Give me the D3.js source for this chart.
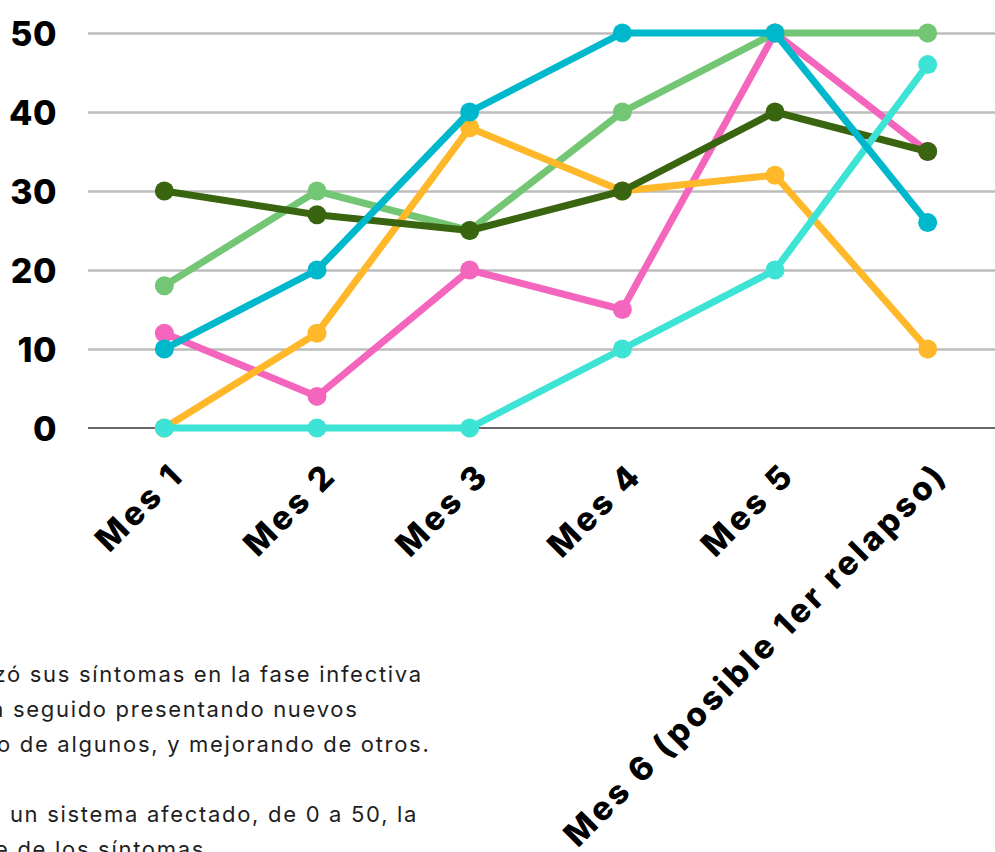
<!DOCTYPE html>
<html>
<head>
<meta charset="utf-8">
<script src="https://cdn.jsdelivr.net/npm/d3@7"></script>
<style>
  html, body { margin: 0; padding: 0; background: #ffffff; overflow: hidden; }
  svg { display: block; }
</style>
</head>
<body>
<svg id="chart" width="995" height="852"></svg>
<script>
// Categories along the x axis
const months = ["Mes 1", "Mes 2", "Mes 3", "Mes 4", "Mes 5", "Mes 6 (posible 1er relapso)"];

// Y axis ticks
const yTicks = [0, 10, 20, 30, 40, 50];

// Symptom severity per affected system (0 to 50), drawn bottom to top
const pinkValues       = [12, 4, 20, 15, 50, 35];
const lightGreenValues = [18, 30, 25, 40, 50, 50];
const orangeValues     = [0, 12, 38, 30, 32, 10];
const darkGreenValues  = [30, 27, 25, 30, 40, 35];
const turquoiseValues  = [0, 0, 0, 10, 20, 46];
const cyanValues       = [10, 20, 40, 50, 50, 26];

const seriesColors = ["#f466be", "#73c774", "#ffb829", "#3a6510", "#3de3d4", "#00b8cc"];

const series = [pinkValues, lightGreenValues, orangeValues, darkGreenValues, turquoiseValues, cyanValues]
  .map((values, i) => ({ values, color: seriesColors[i] }));

// Explanatory notes below the chart; the block runs off the left edge of the page.
// "head" is the part that falls past the edge, "start" is where the rest begins.
const noteLines = [
  { head: "z",  rest: "ó sus síntomas en la fase infectiva", start: 7,  row: 0 },
  { head: "ha", rest: " seguido presentando nuevos",          start: 5,  row: 1 },
  { head: "",   rest: "o de algunos, y mejorando de otros.",  start: -3, row: 2 },
  { head: "",   rest: " un sistema afectado, de 0 a 50, la",  start: 2,  row: 4 },
  { head: "",   rest: "e de los síntomas.",                   start: -5, row: 5 }
];

const svg = d3.select("#chart");

const x = d3.scalePoint().domain(months).range([88, 1004]).padding(0.5);
const y = d3.scaleLinear().domain([0, 50]).range([428, 33]);

// Horizontal gridlines
const gridAxis = d3.axisLeft(y).tickValues(yTicks.filter(d => d > 0)).tickSize(-(1004 - 88)).tickFormat("");
const grid = svg.append("g").attr("transform", "translate(88,0)").call(gridAxis);
grid.select(".domain").remove();
grid.selectAll(".tick line").attr("stroke", "#bdbdbd").attr("stroke-width", 2.6);

// Baseline at zero
svg.append("line")
  .attr("x1", 88).attr("x2", 1004)
  .attr("y1", y(0)).attr("y2", y(0))
  .attr("stroke", "#666666").attr("stroke-width", 2.2);

// Y tick labels
const yAxis = d3.axisLeft(y).tickValues(yTicks).tickSize(0).tickPadding(0);
const yg = svg.append("g").attr("transform", "translate(57,0)").call(yAxis);
yg.select(".domain").remove();
yg.selectAll(".tick text")
  .attr("font-family", "Inter, 'Open Sans', sans-serif")
  .attr("font-weight", 800)
  .attr("font-size", 34)
  .attr("letter-spacing", 0.5)
  .attr("fill", "#000")
  .attr("dy", "0.36em");

// X axis labels, rotated
const xAxis = d3.axisBottom(x).tickSize(0).tickPadding(0);
const xg = svg.append("g").attr("transform", `translate(0,${y(0)})`).call(xAxis);
xg.select(".domain").remove();
xg.selectAll(".tick text")
  .attr("font-family", "Inter, 'Open Sans', sans-serif")
  .attr("font-weight", 800)
  .attr("font-size", 33)
  .attr("letter-spacing", 3.3)
  .attr("fill", "#000")
  .attr("text-anchor", "end")
  .attr("dy", 0)
  .attr("transform", "translate(21,49) rotate(-45)");

// Lines and markers
const line = d3.line().x((d, i) => x(months[i])).y(d => y(d));

const seriesG = svg.append("g").selectAll("g").data(series).join("g");

seriesG.append("path")
  .attr("d", d => line(d.values))
  .attr("fill", "none")
  .attr("stroke", d => d.color)
  .attr("stroke-width", 7)
  .attr("stroke-linejoin", "round");

seriesG.selectAll("circle")
  .data(d => d.values.map((v, i) => ({ v, i, color: d.color })))
  .join("circle")
  .attr("cx", d => x(months[d.i]))
  .attr("cy", d => y(d.v))
  .attr("r", 9.5)
  .attr("fill", d => d.color);

// Notes text
const notes = svg.append("g")
  .attr("font-family", "Inter, 'Noto Sans', sans-serif")
  .attr("font-size", 22)
  .attr("letter-spacing", 1.7)
  .attr("fill", "#1e1e1e");

noteLines.forEach(d => {
  const t = notes.append("text")
    .attr("y", 682 + d.row * 34.9)
    .attr("xml:space", "preserve")
    .style("white-space", "pre");
  const head = t.append("tspan").text(d.head);
  t.append("tspan").text(d.rest);
  const headW = d.head ? head.node().getComputedTextLength() : 0;
  t.attr("x", d.start - headW);
});
</script>
</body>
</html>
